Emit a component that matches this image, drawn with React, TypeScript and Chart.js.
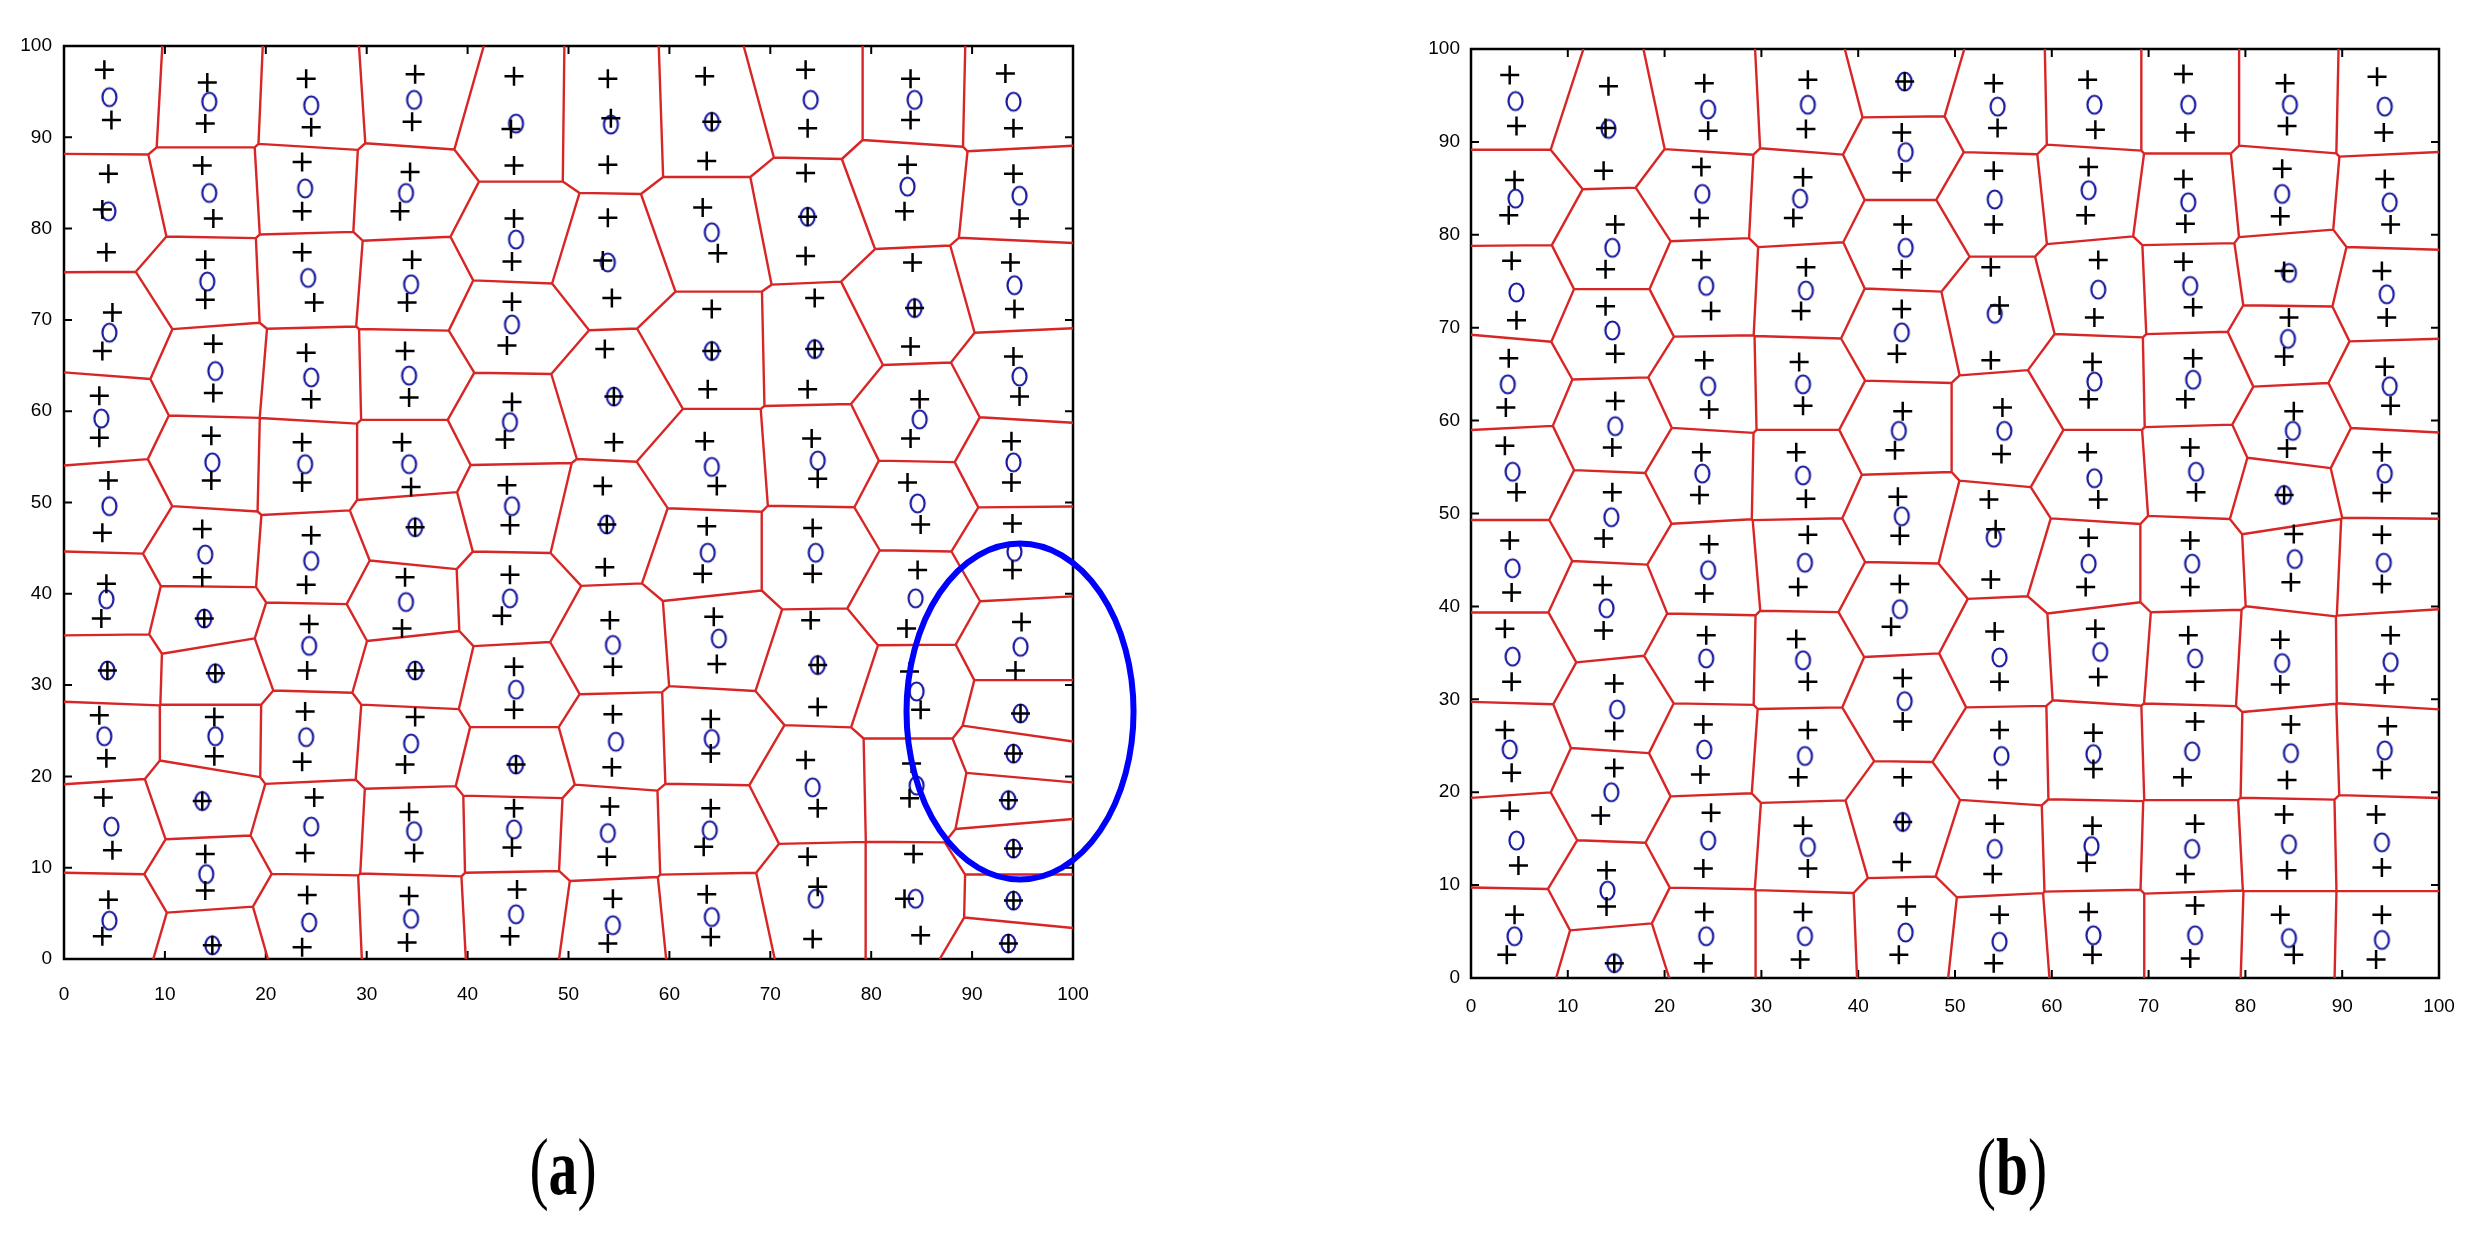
import React, { useEffect, useRef } from 'react';
import { Chart, registerables } from 'chart.js';

Chart.register(...registerables);

type P = [number, number];

// ---------- tick labels ----------
const X_TICKS = [0, 10, 20, 30, 40, 50, 60, 70, 80, 90, 100];
const Y_TICKS = [0, 10, 20, 30, 40, 50, 60, 70, 80, 90, 100];
const PANEL_LABELS = ['a', 'b'];

// ---------- panel (a): node positions (o) ----------
const A_NODES: P[] = [
  [4.5, 94.4], [4.4, 81.9], [4.5, 68.6], [3.7, 59.2], [4.5, 49.6], [4.2, 39.4], [4.3, 31.6], [4.0, 24.4], [4.7, 14.5], [4.5, 4.2],
  [14.4, 93.9], [14.4, 83.9], [14.2, 74.2], [15.0, 64.4], [14.7, 54.4], [14.0, 44.3], [13.9, 37.3], [15.0, 31.3], [15.0, 24.4], [13.7, 17.3], [14.1, 9.3], [14.7, 1.5],
  [24.5, 93.5], [23.9, 84.4], [24.2, 74.6], [24.5, 63.7], [23.9, 54.2], [24.5, 43.6], [24.3, 34.3], [24.0, 24.3], [24.5, 14.5], [24.3, 4.0],
  [34.7, 94.1], [33.9, 83.9], [34.4, 73.9], [34.2, 63.9], [34.2, 54.2], [34.8, 47.3], [33.9, 39.1], [34.8, 31.6], [34.4, 23.6], [34.7, 14.0], [34.4, 4.4],
  [44.8, 91.5], [44.8, 78.8], [44.4, 69.5], [44.2, 58.8], [44.4, 49.6], [44.2, 39.5], [44.8, 29.5], [44.8, 21.3], [44.6, 14.2], [44.8, 4.9],
  [54.2, 91.4], [53.9, 76.3], [54.5, 61.6], [53.8, 47.6], [54.4, 34.4], [54.7, 23.8], [53.9, 13.8], [54.4, 3.7],
  [64.2, 91.7], [64.2, 79.6], [64.2, 66.6], [64.2, 53.9], [63.8, 44.5], [64.9, 35.1], [64.2, 24.1], [64.0, 14.1], [64.2, 4.6],
  [74.0, 94.1], [73.7, 81.3], [74.4, 66.8], [74.7, 54.6], [74.5, 44.5], [74.7, 32.2], [74.2, 18.8], [74.5, 6.6],
  [84.3, 94.1], [83.6, 84.6], [84.3, 71.3], [84.8, 59.1], [84.6, 49.9], [84.4, 39.5], [84.5, 29.3], [84.5, 19.0], [84.4, 6.6],
  [94.1, 93.9], [94.7, 83.6], [94.2, 73.8], [94.7, 63.8], [94.1, 54.4], [94.2, 44.6], [94.8, 34.2], [94.8, 26.9], [94.1, 22.5], [93.6, 17.4], [94.1, 12.1], [94.1, 6.4], [93.6, 1.7],
];

// ---------- panel (a): sensor positions (+) ----------
const A_PLUS: P[] = [
  [4.0, 97.4], [4.7, 91.9], [4.4, 86.0], [3.8, 82.1], [4.2, 77.4], [4.8, 70.8], [3.8, 66.6], [3.5, 61.7], [3.5, 57.1], [4.4, 52.4],
  [3.8, 46.7], [4.2, 41.1], [3.7, 37.3], [4.3, 31.6], [3.5, 26.7], [4.2, 22.0], [3.9, 17.7], [4.8, 11.9], [4.4, 6.5], [3.8, 2.5],
  [14.2, 96.0], [14.0, 91.5], [13.7, 86.9], [14.8, 81.1], [14.0, 76.6], [14.0, 72.2], [14.8, 67.4], [14.8, 62.0], [14.6, 57.3], [14.6, 52.4],
  [13.7, 47.1], [13.7, 41.8], [13.9, 37.3], [15.0, 31.3], [14.9, 26.5], [14.9, 22.2], [13.7, 17.3], [14.0, 11.5], [14.0, 7.5], [14.7, 1.5],
  [24.0, 96.4], [24.5, 91.1], [23.6, 87.3], [23.6, 81.9], [23.6, 77.4], [24.8, 71.9], [24.0, 66.4], [24.5, 61.3], [23.6, 56.6], [23.6, 52.2],
  [24.5, 46.4], [24.0, 41.0], [24.3, 36.7], [24.1, 31.6], [23.9, 27.1], [23.6, 21.6], [24.8, 17.7], [23.9, 11.6], [24.1, 7.0], [23.6, 1.3],
  [34.8, 96.9], [34.5, 91.7], [34.3, 86.2], [33.3, 81.9], [34.5, 76.6], [34.0, 71.9], [33.8, 66.6], [34.2, 61.5], [33.5, 56.6], [34.4, 51.7],
  [34.8, 47.3], [33.8, 41.8], [33.5, 36.2], [34.8, 31.6], [34.8, 26.5], [33.8, 21.3], [34.2, 16.1], [34.7, 11.6], [34.2, 6.9], [34.0, 1.8],
  [44.6, 96.7], [44.3, 90.9], [44.6, 86.9], [44.6, 81.1], [44.4, 76.4], [44.4, 72.0], [43.9, 67.2], [44.4, 61.0], [43.7, 56.9], [43.9, 51.9],
  [44.2, 47.5], [44.2, 42.1], [43.4, 37.6], [44.6, 32.0], [44.6, 27.3], [44.8, 21.3], [44.6, 16.5], [44.4, 12.2], [44.9, 7.6], [44.2, 2.5],
  [53.9, 96.4], [54.2, 92.1], [53.9, 87.0], [53.9, 81.2], [53.4, 76.5], [54.3, 72.4], [53.6, 66.8], [54.5, 61.6], [54.5, 56.6], [53.4, 51.8],
  [53.8, 47.6], [53.6, 42.9], [54.1, 37.1], [54.4, 32.0], [54.4, 26.8], [54.3, 21.0], [54.1, 16.7], [53.8, 11.2], [54.4, 6.6], [53.9, 1.7],
  [63.5, 96.7], [64.2, 91.7], [63.7, 87.4], [63.3, 82.3], [64.8, 77.3], [64.2, 71.2], [64.2, 66.6], [63.8, 62.4], [63.5, 56.7], [64.7, 51.8],
  [63.7, 47.4], [63.3, 42.2], [64.4, 37.5], [64.7, 32.3], [64.1, 26.3], [64.1, 22.5], [64.1, 16.5], [63.4, 12.3], [63.7, 7.1], [64.1, 2.4],
  [73.5, 97.4], [73.7, 91.0], [73.5, 86.1], [73.7, 81.3], [73.5, 77.0], [74.4, 72.4], [74.4, 66.8], [73.7, 62.4], [74.1, 57.0], [74.7, 52.6],
  [74.2, 47.2], [74.2, 42.2], [74.0, 37.1], [74.7, 32.2], [74.7, 27.6], [73.5, 21.8], [74.7, 16.5], [73.7, 11.2], [74.7, 7.9], [74.2, 2.2],
  [83.9, 96.4], [83.9, 91.9], [83.6, 87.0], [83.3, 81.9], [84.1, 76.3], [84.3, 71.3], [83.9, 67.1], [84.8, 61.3], [83.9, 57.0], [83.6, 52.2],
  [84.9, 47.6], [84.6, 42.6], [83.5, 36.2], [83.8, 31.5], [84.9, 27.3], [84.0, 21.4], [83.8, 17.6], [84.2, 11.5], [83.3, 6.6], [84.9, 2.6],
  [93.3, 97.0], [94.1, 91.0], [94.1, 86.0], [94.7, 81.1], [93.8, 76.3], [94.2, 71.2], [94.1, 66.0], [94.7, 61.6], [93.9, 56.7], [93.9, 52.2],
  [94.0, 47.7], [94.0, 42.6], [94.9, 36.9], [94.3, 31.6], [94.8, 26.9], [94.1, 22.5], [93.6, 17.4], [94.1, 12.1], [94.1, 6.4], [93.6, 1.7],
];

// ---------- panel (b): node positions (o) ----------
const B_NODES: P[] = [
  [4.6, 94.4], [4.6, 83.9], [4.7, 73.8], [3.8, 63.9], [4.3, 54.5], [4.3, 44.1], [4.3, 34.6], [4.0, 24.6], [4.7, 14.8], [4.5, 4.5],
  [14.2, 91.4], [14.6, 78.6], [14.6, 69.7], [14.9, 59.4], [14.5, 49.6], [14.0, 39.8], [15.1, 28.9], [14.5, 20.0], [14.1, 9.4], [14.8, 1.6],
  [24.5, 93.5], [23.9, 84.4], [24.3, 74.5], [24.5, 63.7], [23.9, 54.3], [24.5, 43.9], [24.3, 34.4], [24.1, 24.6], [24.5, 14.8], [24.3, 4.5],
  [34.8, 94.0], [34.0, 83.9], [34.6, 74.0], [34.3, 63.9], [34.3, 54.1], [34.5, 44.7], [34.3, 34.2], [34.5, 23.9], [34.8, 14.1], [34.5, 4.5],
  [44.8, 96.5], [44.9, 88.9], [44.9, 78.6], [44.5, 69.5], [44.2, 58.9], [44.5, 49.7], [44.3, 39.7], [44.8, 29.8], [44.6, 16.8], [44.9, 4.9],
  [54.4, 93.8], [54.1, 83.8], [54.1, 71.5], [55.1, 58.9], [54.0, 47.4], [54.6, 34.5], [54.8, 23.9], [54.1, 13.9], [54.6, 3.9],
  [64.4, 94.0], [63.8, 84.8], [64.8, 74.1], [64.4, 64.2], [64.4, 53.8], [63.8, 44.6], [65.0, 35.1], [64.3, 24.1], [64.1, 14.2], [64.3, 4.6],
  [74.1, 94.0], [74.1, 83.5], [74.3, 74.5], [74.6, 64.4], [74.9, 54.5], [74.5, 44.6], [74.8, 34.4], [74.5, 24.4], [74.5, 13.9], [74.8, 4.6],
  [84.6, 94.0], [83.8, 84.4], [84.5, 75.9], [84.4, 68.8], [84.9, 58.9], [84.0, 52.0], [85.1, 45.1], [83.8, 33.9], [84.7, 24.2], [84.5, 14.4], [84.5, 4.3],
  [94.4, 93.8], [94.9, 83.5], [94.6, 73.6], [94.9, 63.7], [94.4, 54.3], [94.3, 44.7], [95.0, 34.0], [94.4, 24.5], [94.1, 14.6], [94.1, 4.1],
];

// ---------- panel (b): sensor positions (+) ----------
const B_PLUS: P[] = [
  [4.0, 97.2], [4.7, 91.7], [4.5, 85.9], [3.9, 82.1], [4.2, 77.2], [4.7, 70.8], [3.9, 66.7], [3.6, 61.4], [3.5, 57.3], [4.7, 52.3],
  [4.0, 47.1], [4.2, 41.5], [3.5, 37.6], [4.2, 31.9], [3.5, 26.7], [4.2, 22.1], [4.0, 18.0], [4.9, 12.1], [4.5, 6.8], [3.7, 2.5],
  [14.2, 96.0], [13.9, 91.5], [13.7, 86.9], [14.9, 81.1], [13.9, 76.3], [13.9, 72.3], [14.9, 67.2], [14.9, 62.1], [14.6, 57.1], [14.6, 52.3],
  [13.7, 47.3], [13.6, 42.3], [13.7, 37.4], [14.8, 31.7], [14.8, 26.6], [14.8, 22.6], [13.4, 17.5], [14.0, 11.6], [14.0, 7.7], [14.8, 1.6],
  [24.1, 96.3], [24.5, 91.2], [23.8, 87.3], [23.6, 81.8], [23.8, 77.3], [24.8, 71.8], [24.1, 66.5], [24.6, 61.2], [23.8, 56.6], [23.6, 52.0],
  [24.6, 46.7], [24.1, 41.4], [24.3, 36.9], [24.1, 31.9], [24.0, 27.3], [23.7, 21.9], [24.8, 17.8], [24.0, 11.8], [24.1, 7.1], [24.0, 1.6],
  [34.8, 96.7], [34.6, 91.4], [34.3, 86.2], [33.3, 81.8], [34.6, 76.5], [34.1, 71.8], [33.9, 66.3], [34.3, 61.6], [33.6, 56.6], [34.6, 51.6],
  [34.8, 47.7], [33.8, 42.1], [33.6, 36.5], [34.8, 31.9], [34.8, 26.7], [33.8, 21.6], [34.3, 16.4], [34.8, 11.8], [34.3, 7.1], [34.0, 2.0],
  [44.8, 96.5], [44.5, 91.0], [44.5, 86.7], [44.6, 81.1], [44.5, 76.3], [44.5, 72.0], [44.0, 67.2], [44.6, 61.0], [43.8, 56.8], [44.1, 51.8],
  [44.3, 47.6], [44.3, 42.4], [43.4, 37.8], [44.6, 32.3], [44.6, 27.6], [44.6, 21.6], [44.6, 16.8], [44.5, 12.5], [45.0, 7.7], [44.2, 2.5],
  [54.0, 96.3], [54.4, 91.5], [54.0, 86.9], [54.0, 81.1], [53.7, 76.5], [54.6, 72.4], [53.7, 66.5], [54.9, 61.4], [54.8, 56.4], [53.5, 51.5],
  [54.2, 48.3], [53.7, 42.9], [54.1, 37.3], [54.6, 31.9], [54.6, 26.7], [54.4, 21.3], [54.1, 16.6], [53.9, 11.2], [54.6, 6.8], [54.0, 1.6],
  [63.7, 96.7], [64.5, 91.3], [63.8, 87.3], [63.5, 82.1], [64.8, 77.3], [64.4, 71.1], [64.2, 66.3], [63.8, 62.3], [63.7, 56.6], [64.8, 51.5],
  [63.8, 47.4], [63.5, 42.1], [64.5, 37.6], [64.8, 32.4], [64.3, 26.4], [64.3, 22.5], [64.2, 16.4], [63.6, 12.4], [63.8, 7.1], [64.2, 2.5],
  [73.6, 97.3], [73.8, 91.0], [73.6, 86.0], [73.8, 81.2], [73.6, 77.1], [74.6, 72.2], [74.6, 66.7], [73.8, 62.3], [74.3, 57.1], [74.9, 52.3],
  [74.3, 47.1], [74.3, 42.1], [74.1, 36.9], [74.8, 31.9], [74.8, 27.6], [73.5, 21.6], [74.8, 16.6], [73.8, 11.2], [74.8, 7.8], [74.3, 2.1],
  [84.1, 96.3], [84.3, 91.7], [83.8, 87.1], [83.6, 82.0], [84.0, 76.1], [84.5, 71.1], [84.0, 66.9], [85.0, 61.0], [84.3, 57.0], [84.0, 52.0],
  [85.0, 47.8], [84.7, 42.6], [83.6, 36.4], [83.6, 31.6], [84.7, 27.3], [84.3, 21.3], [84.0, 17.6], [84.3, 11.6], [83.6, 6.8], [85.0, 2.5],
  [93.6, 97.0], [94.3, 91.0], [94.4, 86.0], [95.0, 81.1], [94.1, 76.1], [94.6, 71.1], [94.4, 65.8], [95.0, 61.6], [94.1, 56.6], [94.1, 52.2],
  [94.1, 47.7], [94.1, 42.4], [95.0, 36.9], [94.4, 31.6], [94.7, 27.1], [94.1, 22.4], [93.5, 17.6], [94.1, 11.9], [94.1, 6.8], [93.5, 2.0],
];

// highlighted region in panel (a), in data units
const A_HIGHLIGHT = { cx: 94.75, cy: 27.1, rx: 11.25, ry: 18.4 };

// ---------- Voronoi (cells of the o nodes, clipped to the 0..100 box) ----------
type V = { p: P; l: number };
function clipPoly(poly: V[], a: P, b: P, label: number): V[] {
  const mx = (a[0] + b[0]) / 2, my = (a[1] + b[1]) / 2;
  const dx = b[0] - a[0], dy = b[1] - a[1];
  const f = (p: P) => (p[0] - mx) * dx + (p[1] - my) * dy;
  const out: V[] = [];
  for (let k = 0; k < poly.length; k++) {
    const cur = poly[k], nxt = poly[(k + 1) % poly.length];
    const fc = f(cur.p), fn = f(nxt.p);
    const cin = fc <= 0, nin = fn <= 0;
    if (cin) out.push(cur);
    if (cin !== nin) {
      const t = fc / (fc - fn);
      const ip: P = [cur.p[0] + t * (nxt.p[0] - cur.p[0]), cur.p[1] + t * (nxt.p[1] - cur.p[1])];
      out.push(cin ? { p: ip, l: label } : { p: ip, l: cur.l });
    }
  }
  return out;
}
function voronoiSegments(sites: P[]) {
  const pts: { x: number; y: number }[] = [];
  sites.forEach((s, i) => {
    let poly: V[] = [
      { p: [0, 0], l: -1 }, { p: [100, 0], l: -1 }, { p: [100, 100], l: -1 }, { p: [0, 100], l: -1 },
    ];
    sites.forEach((t, j) => {
      if (j !== i && poly.length) poly = clipPoly(poly, s, t, j);
    });
    for (let k = 0; k < poly.length; k++) {
      if (poly[k].l > i) {
        const a = poly[k].p, b = poly[(k + 1) % poly.length].p;
        pts.push({ x: a[0], y: a[1] }, { x: b[0], y: b[1] }, { x: NaN, y: NaN });
      }
    }
  });
  return pts;
}

function ellipseMarker() {
  const c = document.createElement('canvas');
  c.width = 19; c.height = 23;
  const g = c.getContext('2d')!;
  g.strokeStyle = '#1a1aa0';
  g.lineWidth = 2.2;
  g.beginPath();
  g.ellipse(9.5, 11.5, 7, 9, 0, 0, Math.PI * 2);
  g.stroke();
  return c;
}

const framePlugin = {
  id: 'matlabFrame',
  beforeDatasetsDraw(chart: any) {
    const { ctx, chartArea, scales } = chart;
    const { left, right, top, bottom } = chartArea;
    ctx.save();
    ctx.strokeStyle = '#000';
    ctx.lineWidth = 2.5;
    ctx.strokeRect(left, top, right - left, bottom - top);
    ctx.lineWidth = 2;
    ctx.beginPath();
    X_TICKS.forEach((v) => {
      const px = scales.x.getPixelForValue(v);
      ctx.moveTo(px, bottom); ctx.lineTo(px, bottom - 8);
      ctx.moveTo(px, top); ctx.lineTo(px, top + 8);
    });
    Y_TICKS.forEach((v) => {
      const py = scales.y.getPixelForValue(v);
      ctx.moveTo(left, py); ctx.lineTo(left + 8, py);
      ctx.moveTo(right, py); ctx.lineTo(right - 8, py);
    });
    ctx.stroke();
    ctx.restore();
  },
};

const highlightPlugin = {
  id: 'highlight',
  afterDraw(chart: any) {
    const opts = chart.options.plugins.highlight;
    if (!opts || !opts.shape) return;
    const { cx, cy, rx, ry } = opts.shape;
    const { ctx, scales } = chart;
    const px = scales.x.getPixelForValue(cx);
    const py = scales.y.getPixelForValue(cy);
    const prx = Math.abs(scales.x.getPixelForValue(cx + rx) - px);
    const pry = Math.abs(scales.y.getPixelForValue(cy + ry) - py);
    ctx.save();
    ctx.strokeStyle = '#0000ff';
    ctx.lineWidth = 6;
    ctx.beginPath();
    ctx.ellipse(px, py, prx, pry, 0, 0, Math.PI * 2);
    ctx.stroke();
    ctx.restore();
  },
};

type PanelCfg = {
  nodes: P[];
  plus: P[];
  yAxisWidth: number;
  yPad: number;
  xPad: number;
  padding: { left: number; top: number; right: number; bottom: number };
  highlight?: { cx: number; cy: number; rx: number; ry: number };
};

function Panel({ cfg, width, height, style }: { cfg: PanelCfg; width: number; height: number; style: React.CSSProperties }) {
  const ref = useRef<HTMLCanvasElement>(null);
  useEffect(() => {
    const font = { family: "'Liberation Sans', Arial, sans-serif", size: 19 };
    const chart = new Chart(ref.current!, {
      type: 'scatter',
      data: {
        datasets: [
          {
            label: 'sensors',
            data: cfg.plus.map(([x, y]) => ({ x, y })),
            pointStyle: 'cross',
            pointRadius: 9.5,
            borderColor: '#000',
            backgroundColor: '#000',
            borderWidth: 2.5,
            order: 0,
            clip: false,
          } as any,
          {
            label: 'nodes',
            data: cfg.nodes.map(([x, y]) => ({ x, y })),
            pointStyle: ellipseMarker(),
            pointRadius: 9,
            order: 1,
            clip: false,
          } as any,
          {
            label: 'voronoi',
            data: voronoiSegments(cfg.nodes),
            showLine: true,
            spanGaps: false,
            borderColor: '#d82626',
            borderWidth: 2.4,
            pointRadius: 0,
            tension: 0,
            order: 2,
          } as any,
        ],
      },
      options: {
        responsive: false,
        animation: false,
        devicePixelRatio: 1,
        events: [],
        layout: { padding: cfg.padding },
        plugins: {
          legend: { display: false },
          tooltip: { enabled: false },
          highlight: { shape: cfg.highlight },
        } as any,
        scales: {
          x: {
            type: 'linear',
            min: 0,
            max: 100,
            grid: { display: false, drawTicks: false },
            border: { display: false },
            afterBuildTicks: (s: any) => { s.ticks = X_TICKS.map((v) => ({ value: v })); },
            afterFit: (s: any) => { s.height = 50; },
            ticks: { padding: cfg.xPad, font, color: '#000', autoSkip: false, maxRotation: 0 },
          },
          y: {
            type: 'linear',
            min: 0,
            max: 100,
            grid: { display: false, drawTicks: false },
            border: { display: false },
            afterBuildTicks: (s: any) => { s.ticks = Y_TICKS.map((v) => ({ value: v })); },
            afterFit: (s: any) => { s.width = cfg.yAxisWidth; },
            ticks: { padding: cfg.yPad, font, color: '#000', autoSkip: false },
          },
        },
      },
      plugins: [framePlugin, highlightPlugin],
    });
    return () => chart.destroy();
  }, []);
  return <canvas ref={ref} width={width} height={height} style={{ position: 'absolute', width, height, ...style }} />;
}

const CFG_A: PanelCfg = {
  nodes: A_NODES,
  plus: A_PLUS,
  yAxisWidth: 64,
  yPad: 12,
  xPad: 24,
  padding: { left: 0, top: 46, right: 77, bottom: 21 },
  highlight: A_HIGHLIGHT,
};
const CFG_B: PanelCfg = {
  nodes: B_NODES,
  plus: B_PLUS,
  yAxisWidth: 71,
  yPad: 11,
  xPad: 17,
  padding: { left: 0, top: 49, right: 40, bottom: 12 },
};

const labelStyle: React.CSSProperties = {
  position: 'absolute',
  top: 1122,
  width: 200,
  textAlign: 'center',
  fontFamily: "'Liberation Serif', 'Times New Roman', serif",
  fontSize: 80,
  lineHeight: '90px',
  color: '#000',
  transform: 'scaleX(0.72)',
};

export default function App() {
  return (
    <div style={{ position: 'fixed', left: 0, top: 0, width: 2479, height: 1233, background: '#fff', overflow: 'hidden' }}>
      <Panel cfg={CFG_A} width={1150} height={1030} style={{ left: 0, top: 0 }} />
      <Panel cfg={CFG_B} width={1079} height={1040} style={{ left: 1400, top: 0 }} />
      <div style={{ ...labelStyle, left: 563 - 100 }}>
        (<b>{PANEL_LABELS[0]}</b>)
      </div>
      <div style={{ ...labelStyle, left: 2012 - 100 }}>
        (<b>{PANEL_LABELS[1]}</b>)
      </div>
    </div>
  );
}
